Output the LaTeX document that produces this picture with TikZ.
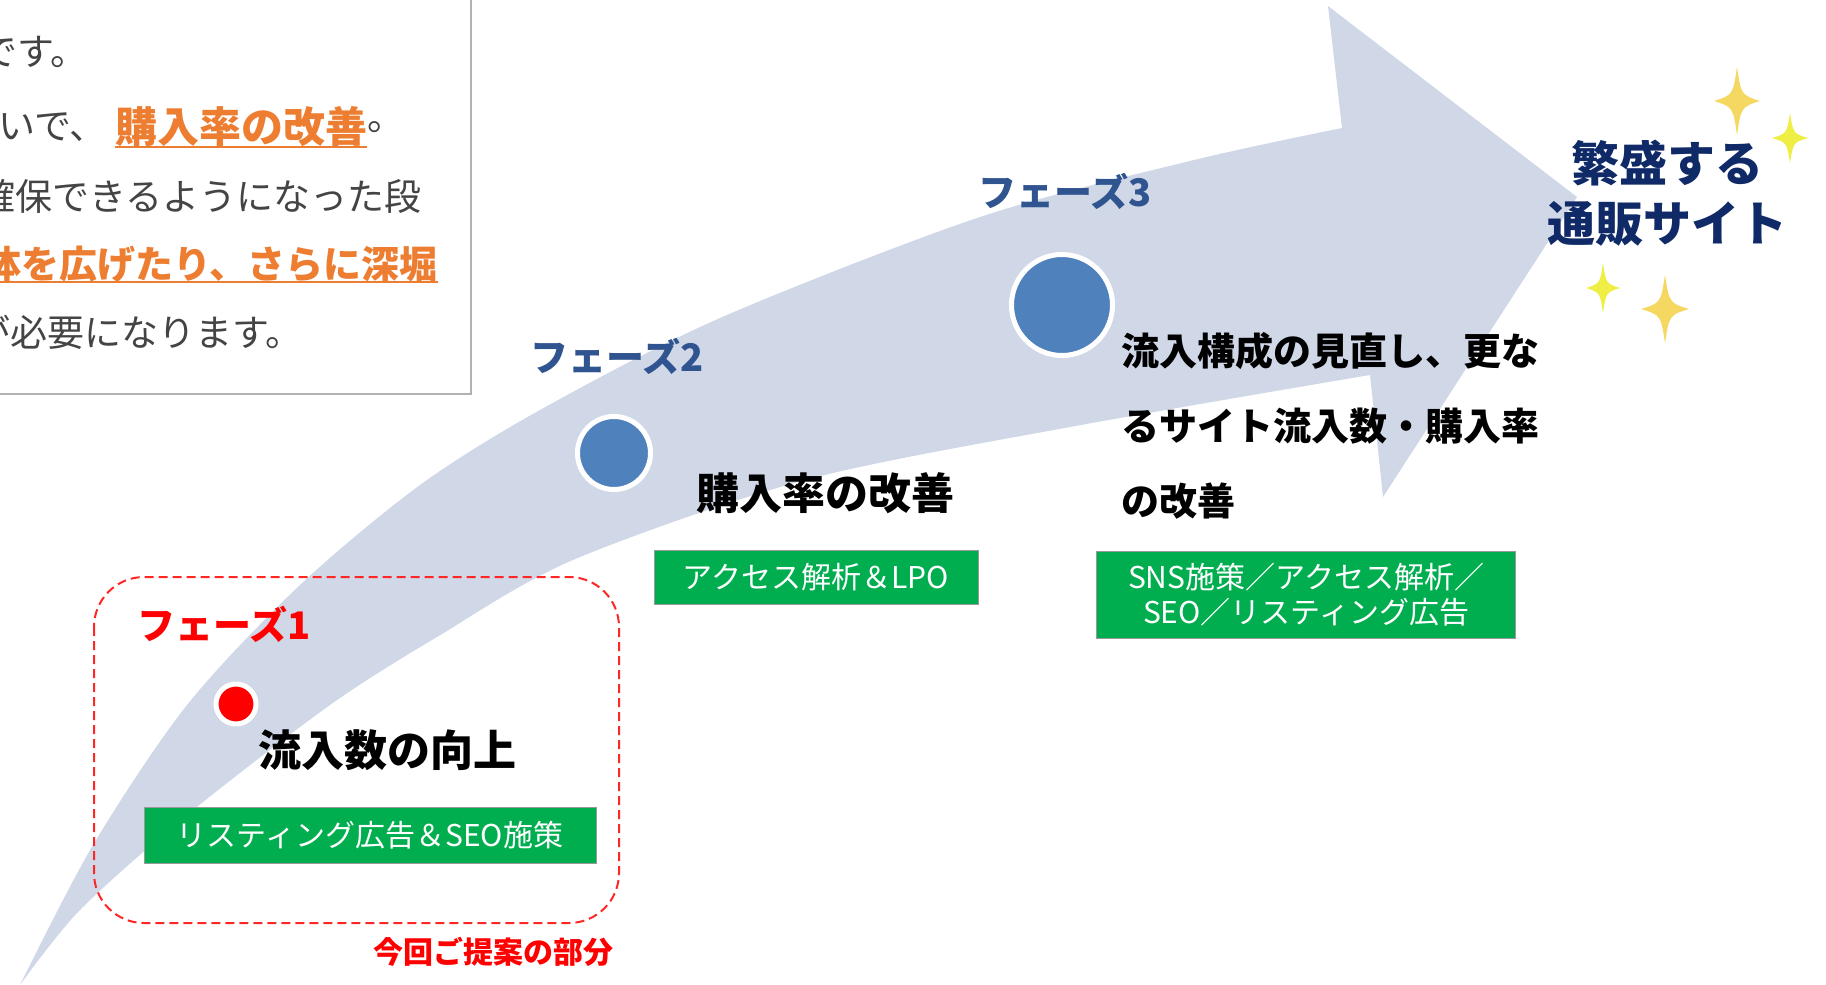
\documentclass[tikz,border=0pt]{standalone}
\usepackage{fontspec}
\setmainfont{Noto Sans CJK JP}
\usetikzlibrary{positioning}

\definecolor{bandblue}{RGB}{208,216,232}
\definecolor{dotblue}{RGB}{79,129,189}
\definecolor{phaseblue}{RGB}{47,84,143}
\definecolor{navy}{RGB}{16,42,104}
\definecolor{boxgreen}{RGB}{0,174,80}
\definecolor{memoorange}{RGB}{237,125,49}
\definecolor{memogray}{RGB}{68,68,68}
\definecolor{sparkgold}{RGB}{245,216,98}
\definecolor{sparklemon}{RGB}{238,238,68}

\newcommand{\jpsize}[2]{\fontsize{#1}{#2}\selectfont}
% four-pointed sparkle: x, y, half width, half height, colour
\newcommand{\sparkle}[5]{%
  \fill[#5] (#1,#2-#4) .. controls (#1+0.18*#3,#2-0.18*#4) .. (#1+#3,#2)
    .. controls (#1+0.18*#3,#2+0.18*#4) .. (#1,#2+#4)
    .. controls (#1-0.18*#3,#2+0.18*#4) .. (#1-#3,#2)
    .. controls (#1-0.18*#3,#2-0.18*#4) .. (#1,#2-#4) -- cycle;}

\begin{document}
\begin{tikzpicture}[x=1pt, y=-1pt,
  every node/.style={inner sep=0pt},
  memo/.style={anchor=west, text=memogray, font=\jpsize{37}{37}},
  memohl/.style={anchor=west, text=memoorange, font=\bfseries\jpsize{38}{38}},
  phasetitle/.style={anchor=west, font=\bfseries\jpsize{38}{38}},
  goaltext/.style={anchor=west, font=\bfseries\jpsize{43}{43}},
  measurebox/.style={fill=boxgreen, draw=gray!80, line width=1pt, text=white,
    font=\jpsize{30}{35}, align=center},
  phasedot/.style={circle, draw=white, line width=5pt, minimum size=#1},
  hlline/.style={memoorange, line width=2.5pt}]

  \useasboundingbox (0,0) rectangle (1826,985);
  \clip (0,0) rectangle (1826,985);

  % growth arrow
  \fill[bandblue] plot[smooth] coordinates {(20,985) (93,845) (187,705) (300,585)
      (420,485) (540,410) (720,318) (980,217) (1194,160) (1342,128)}
    -- (1328,6) -- (1577,197) -- (1383,497) -- (1370,375)
    -- plot[smooth] coordinates {(1370,375) (1070,427) (805,480) (573,560)
      (437,637) (330,705) (187,815) (80,910) (20,985)} -- cycle;

  % memo box, cut off at the page edge
  \draw[fill=white, draw=gray!60, line width=1.5pt] (-20,-20) rectangle (471,394);
  \node[memo] (m1) at (-20,52) {です。};
  \node[memo] (m2a) at (-2,127) {いで、};
  \node[memohl, font=\bfseries\jpsize{42}{42}, right=8pt of m2a] (m2b) {購入率の改善};
  \node[memo, right=0pt of m2b] (m2c) {。};
  \node[memo] (m3) at (-22,196) {確保できるようになった段};
  \node[memohl] (m4) at (-17,264) {体を広げたり、さらに深堀};
  \node[memo] (m5) at (-27,332) {が必要になります。};
  \draw[hlline] ([yshift=-4pt]m2b.base west) -- ([yshift=-4pt]m2b.base east);
  \draw[hlline] ([yshift=-4pt]m4.base west) -- ([yshift=-4pt]m4.base east);

  % proposal frame
  \draw[red!85, line width=2pt, dash pattern=on 9pt off 5pt, rounded corners=50pt]
    (94,577) rectangle (619,923);
  \node[anchor=west, text=red, font=\bfseries\jpsize{30}{30}] (proposal) at (373,952) {今回ご提案の部分};

  % phase 1
  \node[phasedot=40pt, fill=red] (dot1) at (236,704) {};
  \node[phasetitle, text=red] (phase1) at (137,624) {フェーズ1};
  \node[goaltext] (goal1) at (258,750) {流入数の向上};
  \node[measurebox, minimum width=452pt, minimum height=56pt] (tool1) at (370,835)
    {リスティング広告＆SEO施策};

  % phase 2
  \node[phasedot=73pt, fill=dotblue] (dot2) at (614,453) {};
  \node[phasetitle, text=phaseblue] (phase2) at (530,356) {フェーズ2};
  \node[goaltext] (goal2) at (696,493) {購入率の改善};
  \node[measurebox, minimum width=324pt, minimum height=54pt] (tool2) at (816,577)
    {アクセス解析＆LPO};

  % phase 3
  \node[phasedot=101pt, fill=dotblue] (dot3) at (1062,305) {};
  \node[phasetitle, text=phaseblue] (phase3) at (978,191) {フェーズ3};
  \node[goaltext, font=\bfseries\jpsize{38}{75}, align=left] (goal3) at (1121,426)
    {流入構成の見直し、更な\\るサイト流入数・購入率\\の改善};
  \node[measurebox, minimum width=419pt, minimum height=87pt] (tool3) at (1306,594.5)
    {SNS施策／アクセス解析／\\SEO／リスティング広告};

  % goal
  \node[text=navy, font=\bfseries\jpsize{48}{60}, align=center] (goal) at (1667,193)
    {繁盛する\\通販サイト};
  \sparkle{1737}{101}{23}{34}{sparkgold}
  \sparkle{1790}{138}{18}{25}{sparklemon}
  \sparkle{1603}{288}{17}{25}{sparklemon}
  \sparkle{1665}{309}{24}{34}{sparkgold}
\end{tikzpicture}
\end{document}
